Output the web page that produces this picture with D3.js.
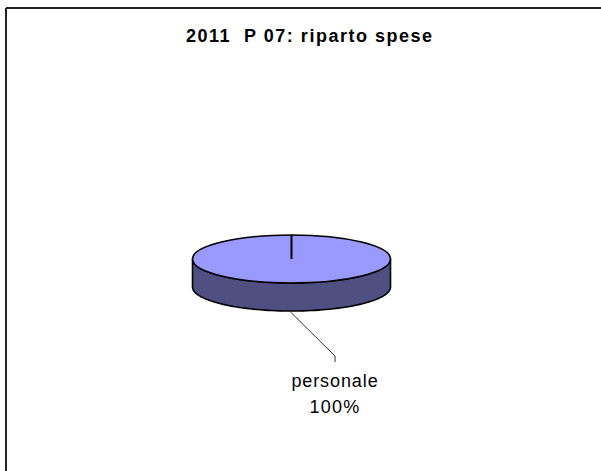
<!DOCTYPE html>
<html><head><meta charset="utf-8">
<script src="https://cdn.jsdelivr.net/npm/d3@7"></script>
<style>html,body{margin:0;padding:0;background:#fff;}svg{display:block;}</style>
</head><body>
<svg id="chart" width="601" height="471"></svg>
<script>
const title = "2011  P 07: riparto spese";
const categories = ["personale"];
const values = [100];
const topColors = ["#9999FF"];
const sideColors = ["#4F4F82"];

const svg = d3.select("#chart");
const W = 601, H = 471;
svg.append("rect").attr("width", W).attr("height", H).attr("fill", "#fff");
// frame (top & left visible)
svg.append("line").attr("x1", 6).attr("y1", 8).attr("x2", W).attr("y2", 8).attr("stroke", "#222").attr("stroke-width", 2);
svg.append("line").attr("x1", 6).attr("y1", 8).attr("x2", 6).attr("y2", H).attr("stroke", "#222").attr("stroke-width", 2);

svg.append("text").attr("x", 186).attr("y", 42)
  .attr("font-family", "Liberation Sans, Arial, sans-serif").attr("font-weight", "bold")
  .attr("font-size", 18).attr("fill", "#000")
  .attr("textLength", 246).attr("lengthAdjust", "spacing")
  .style("white-space", "pre").text(title);

const cx = 291.5, cy = 259, rx = 99, ry = 24, depth = 28;
const total = d3.sum(values);
const pie = d3.pie().sort(null).value(d => d)(values);

const pt = (a, dy = 0) => [cx + rx * Math.sin(a), cy - ry * Math.cos(a) + dy];

// side (front half, angles pi/2 .. 3pi/2)
pie.forEach((s, i) => {
  const a0 = Math.max(s.startAngle, Math.PI / 2), a1 = Math.min(s.endAngle, 3 * Math.PI / 2);
  if (a1 <= a0) return;
  const n = 80, topPts = [], botPts = [];
  for (let k = 0; k <= n; k++) {
    const a = a0 + (a1 - a0) * k / n;
    topPts.push(pt(a)); botPts.push(pt(a, depth));
  }
  const poly = topPts.concat(botPts.reverse());
  svg.append("path").attr("d", d3.line()(poly) + "Z")
    .attr("fill", sideColors[i]).attr("stroke", "#000").attr("stroke-width", 1.6).attr("stroke-linejoin", "round");
});
// top face
const arc = d3.arc().innerRadius(0).outerRadius(rx);
pie.forEach((s, i) => {
  svg.append("path").attr("d", arc(s))
    .attr("transform", `translate(${cx},${cy}) scale(1,${ry / rx})`)
    .attr("fill", topColors[i]).attr("stroke", "#000").attr("stroke-width", 1.6)
    .attr("vector-effect", "non-scaling-stroke");
});
// radial line at slice boundary (start angle)
pie.forEach(s => {
  const p = pt(s.startAngle);
  svg.append("line").attr("x1", cx).attr("y1", cy).attr("x2", p[0]).attr("y2", p[1])
    .attr("stroke", "#000").attr("stroke-width", 2);
});

// labels
pie.forEach((s, i) => {
  const mid = (s.startAngle + s.endAngle) / 2;
  const p = pt(mid, depth);
  const lx = 335, ly = 356;
  svg.append("polyline").attr("points", [[p[0] - 1, p[1] + 1], [lx, ly], [lx, ly + 6]].map(d => d.join(",")).join(" "))
    .attr("fill", "none").attr("stroke", "#333").attr("stroke-width", 1);
  const g = svg.append("g").attr("font-family", "Liberation Sans, Arial, sans-serif")
    .attr("font-size", 18).attr("fill", "#000").attr("text-anchor", "middle").attr("letter-spacing", 0.9);
  g.append("text").attr("x", lx).attr("y", 387).text(categories[i]);
  g.append("text").attr("x", lx).attr("y", 413).attr("letter-spacing", 1.2).text(d3.format(".0%")(s.value / total));
});
</script>
</body></html>
